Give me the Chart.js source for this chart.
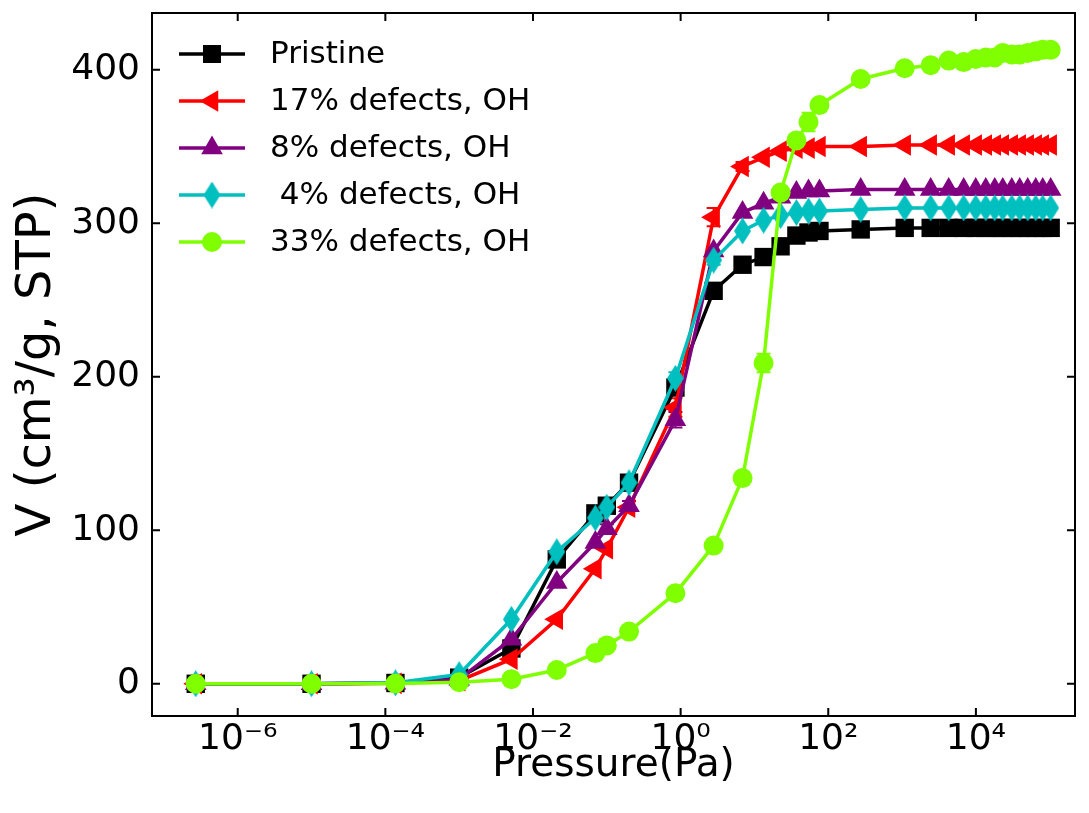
<!DOCTYPE html>
<html>
<head>
<meta charset="utf-8">
<script src="https://cdn.jsdelivr.net/npm/chart.js@4.4.1/dist/chart.umd.min.js"></script>
<style>
  html, body { margin: 0; padding: 0; background: #fff; }
</style>
</head>
<body>
<canvas id="isotherm" width="1089" height="813"></canvas>
<script>
// pressure points (Pa), shared by every curve
const pressure = [2.7e-7, 1e-5, 1.37e-4, 1e-3, 5.1e-3, 0.021, 0.07, 0.1, 0.2, 0.85, 2.8, 6.9, 13.3, 22.6, 37, 54, 76,
  275, 1085, 2440, 4280, 6830, 9940, 13600, 18000, 23100, 30600, 39200, 50300, 64600, 80400, 103000];

const pristine = [0, 0, 0.5, 4, 23, 81, 111, 116, 131, 193, 256, 273, 278, 285, 292, 294, 295,
  296, 297, 297, 297, 297, 297, 297, 297, 297, 297, 297, 297, 297, 297, 297];
const defects17 = [0, 0, 0.3, 2, 16, 42, 75, 88, 115, 180, 304, 337, 343, 347, 349, 349, 350,
  350, 351, 351, 351, 351, 351, 351, 351, 351, 351, 351, 351, 351, 351, 351];
const defects8 = [0, 0, 0.4, 3, 29, 66, 92, 101, 116, 172, 282, 307, 313, 317, 320, 321, 321,
  322, 322, 322, 322, 322, 322, 322, 322, 322, 322, 322, 322, 322, 322, 322];
const defects4 = [0, 0, 0.6, 6, 42, 86, 108, 115, 131, 199, 276, 295, 302, 305, 307, 308, 308,
  309, 310, 310, 310, 310, 310, 310, 310, 310, 310, 310, 310, 310, 310, 310];
const defects33 = [0, 0, 0.2, 1, 3, 9, 20, 25, 34, 59, 90, 134, 209, 320, 354, 366, 377,
  394, 401, 403, 406, 405, 407, 408, 408, 411, 410, 410, 411, 412, 413, 413];

// error bar half-widths (only a few are visible in the picture)
const errPristine = [0, 0, 0, 0, 0, 0, 0, 0, 3, 4, 0, 0, 0, 0, 0, 0, 0, 0, 0, 0, 0, 0, 0, 0, 0, 0, 0, 0, 0, 0, 0, 0];
const err17 = [0, 0, 0, 0, 0, 0, 0, 0, 0, 6, 6, 3, 0, 0, 0, 0, 0, 0, 0, 0, 0, 0, 0, 0, 0, 0, 0, 0, 0, 0, 0, 0];
const err8 = [0, 0, 0, 0, 0, 0, 0, 3, 3, 5, 0, 0, 0, 0, 0, 0, 0, 0, 0, 0, 0, 0, 0, 0, 0, 0, 0, 0, 0, 0, 0, 0];
const err4 = [0, 0, 0, 0, 0, 0, 0, 0, 0, 4, 3, 0, 0, 0, 0, 0, 0, 0, 0, 0, 0, 0, 0, 0, 0, 0, 0, 0, 0, 0, 0, 0];
const err33 = [0, 0, 0, 0, 0, 0, 0, 0, 0, 0, 0, 0, 6, 0, 3, 6, 0, 0, 0, 0, 0, 0, 0, 0, 0, 0, 0, 0, 0, 0, 0, 0];

const seriesNames = ['Pristine', '17% defects, OH', '8% defects, OH', ' 4% defects, OH', '33% defects, OH'];
const seriesColors = ['#000000', '#ff0000', '#800080', '#00bfbf', '#7fff00'];

const xTickValues = [1e-6, 1e-4, 1e-2, 1, 1e2, 1e4];
const xTickLabels = ['10\u207B\u2076', '10\u207B\u2074', '10\u207B\u00B2', '10\u2070', '10\u00B2', '10\u2074'];
const yTickValues = [0, 100, 200, 300, 400];

const FONT = 'DejaVu Sans';

// thin diamond marker like matplotlib 'd'
function thinDiamond(color, w, h) {
  const c = document.createElement('canvas');
  c.width = w;
  c.height = h;
  const g = c.getContext('2d');
  g.fillStyle = color;
  g.beginPath();
  g.moveTo(w / 2, 0);
  g.lineTo(w, h / 2);
  g.lineTo(w / 2, h);
  g.lineTo(0, h / 2);
  g.closePath();
  g.fill();
  return c;
}
const diamondImg = thinDiamond('#00bfbf', 17, 27);

function toPoints(values, errs) {
  return pressure.map((p, i) => ({ x: p, y: values[i], err: errs[i] }));
}

function series(i, values, errs, style, radius, rotation, order) {
  return {
    label: seriesNames[i],
    data: toPoints(values, errs),
    borderColor: seriesColors[i],
    backgroundColor: seriesColors[i],
    borderWidth: 3.5,
    pointStyle: style,
    pointRadius: radius,
    pointRotation: rotation,
    pointBorderWidth: 0,
    pointHoverRadius: radius,
    tension: 0,
    order: order
  };
}

function drawMarker(ctx, kind, x, y, color) {
  ctx.fillStyle = color;
  ctx.beginPath();
  if (kind === 'square') {
    ctx.rect(x - 9, y - 9, 18, 18);
  } else if (kind === 'left') {
    const r = 12.5;
    ctx.moveTo(x - r, y);
    ctx.lineTo(x + r / 2, y - r * 0.866);
    ctx.lineTo(x + r / 2, y + r * 0.866);
  } else if (kind === 'up') {
    const r = 12.5;
    ctx.moveTo(x, y - r);
    ctx.lineTo(x + r * 0.866, y + r / 2);
    ctx.lineTo(x - r * 0.866, y + r / 2);
  } else if (kind === 'diamond') {
    ctx.drawImage(diamondImg, x - diamondImg.width / 2, y - diamondImg.height / 2);
    return;
  } else {
    ctx.arc(x, y, 10, 0, Math.PI * 2);
  }
  ctx.closePath();
  ctx.fill();
}

const markerKinds = ['square', 'left', 'up', 'diamond', 'circle'];

const errorBarPlugin = {
  id: 'errorBars',
  beforeDatasetsDraw(chart) {
    const { ctx, scales } = chart;
    ctx.save();
    ctx.lineWidth = 2;
    chart.data.datasets.forEach(ds => {
      ctx.strokeStyle = ds.borderColor;
      ds.data.forEach(pt => {
        if (!pt.err) return;
        const x = scales.x.getPixelForValue(pt.x);
        const y1 = scales.y.getPixelForValue(pt.y - pt.err);
        const y2 = scales.y.getPixelForValue(pt.y + pt.err);
        ctx.beginPath();
        ctx.moveTo(x, y1); ctx.lineTo(x, y2);
        ctx.moveTo(x - 7, y1); ctx.lineTo(x + 7, y1);
        ctx.moveTo(x - 7, y2); ctx.lineTo(x + 7, y2);
        ctx.stroke();
      });
    });
    ctx.restore();
  }
};

const framePlugin = {
  id: 'frame',
  afterDraw(chart) {
    const { ctx, chartArea: a, scales } = chart;
    ctx.save();
    ctx.strokeStyle = '#000';
    ctx.lineWidth = 2;
    ctx.strokeRect(a.left, a.top, a.right - a.left, a.bottom - a.top);
    ctx.beginPath();
    xTickValues.forEach(v => {
      const x = scales.x.getPixelForValue(v);
      ctx.moveTo(x, a.bottom); ctx.lineTo(x, a.bottom - 8);
      ctx.moveTo(x, a.top); ctx.lineTo(x, a.top + 8);
    });
    yTickValues.forEach(v => {
      const y = scales.y.getPixelForValue(v);
      ctx.moveTo(a.left, y); ctx.lineTo(a.left + 8, y);
      ctx.moveTo(a.right, y); ctx.lineTo(a.right - 8, y);
    });
    ctx.stroke();

    // legend
    ctx.font = '31px "' + FONT + '"';
    ctx.textBaseline = 'middle';
    ctx.textAlign = 'left';
    seriesNames.forEach((name, i) => {
      const y = a.top + 41 + i * 47;
      ctx.strokeStyle = seriesColors[i];
      ctx.lineWidth = 3.5;
      ctx.beginPath();
      ctx.moveTo(a.left + 27, y);
      ctx.lineTo(a.left + 93, y);
      ctx.stroke();
      drawMarker(ctx, markerKinds[i], a.left + 60, y, seriesColors[i]);
      ctx.fillStyle = '#000';
      ctx.fillText(name, a.left + 118, y + 1);
    });
    ctx.restore();
  }
};

new Chart(document.getElementById('isotherm'), {
  type: 'line',
  data: {
    datasets: [
      series(0, pristine, errPristine, 'rect', 13, 0, 4),
      series(1, defects17, err17, 'triangle', 12.5, 270, 3),
      series(2, defects8, err8, 'triangle', 12.5, 0, 2),
      series(3, defects4, err4, diamondImg, 11, 0, 1),
      series(4, defects33, err33, 'circle', 10, 0, 0)
    ]
  },
  options: {
    responsive: false,
    animation: false,
    devicePixelRatio: 1,
    layout: { padding: { top: 12, right: 14, left: 0, bottom: 0 } },
    plugins: {
      legend: { display: false },
      tooltip: { enabled: false }
    },
    scales: {
      x: {
        type: 'logarithmic',
        min: 6.9e-8,
        max: 2.2e5,
        afterBuildTicks: s => { s.ticks = xTickValues.map(v => ({ value: v })); },
        afterFit: s => { s.height = 97; s.paddingLeft = 0; s.paddingRight = 0; },
        grid: { display: false, drawTicks: false },
        border: { display: false },
        ticks: {
          autoSkip: false,
          maxRotation: 0,
          padding: 2,
          color: '#000',
          font: { family: FONT, size: 36 },
          callback: (v, i) => xTickLabels[i]
        },
        title: {
          display: true,
          text: 'Pressure(Pa)',
          color: '#000',
          font: { family: FONT, size: 39 },
          padding: { top: 0, bottom: 24 }
        }
      },
      y: {
        type: 'linear',
        min: -21,
        max: 437,
        afterBuildTicks: s => { s.ticks = yTickValues.map(v => ({ value: v })); },
        afterFit: s => { s.width = 152; s.paddingTop = 0; s.paddingBottom = 0; },
        grid: { display: false, drawTicks: false },
        border: { display: false },
        ticks: {
          padding: 12,
          color: '#000',
          font: { family: FONT, size: 36 }
        },
        title: {
          display: true,
          text: 'V (cm\u00B3/g, STP)',
          color: '#000',
          font: { family: FONT, size: 48 },
          padding: { top: 9, bottom: 0 }
        }
      }
    }
  },
  plugins: [errorBarPlugin, framePlugin]
});
</script>
</body>
</html>
